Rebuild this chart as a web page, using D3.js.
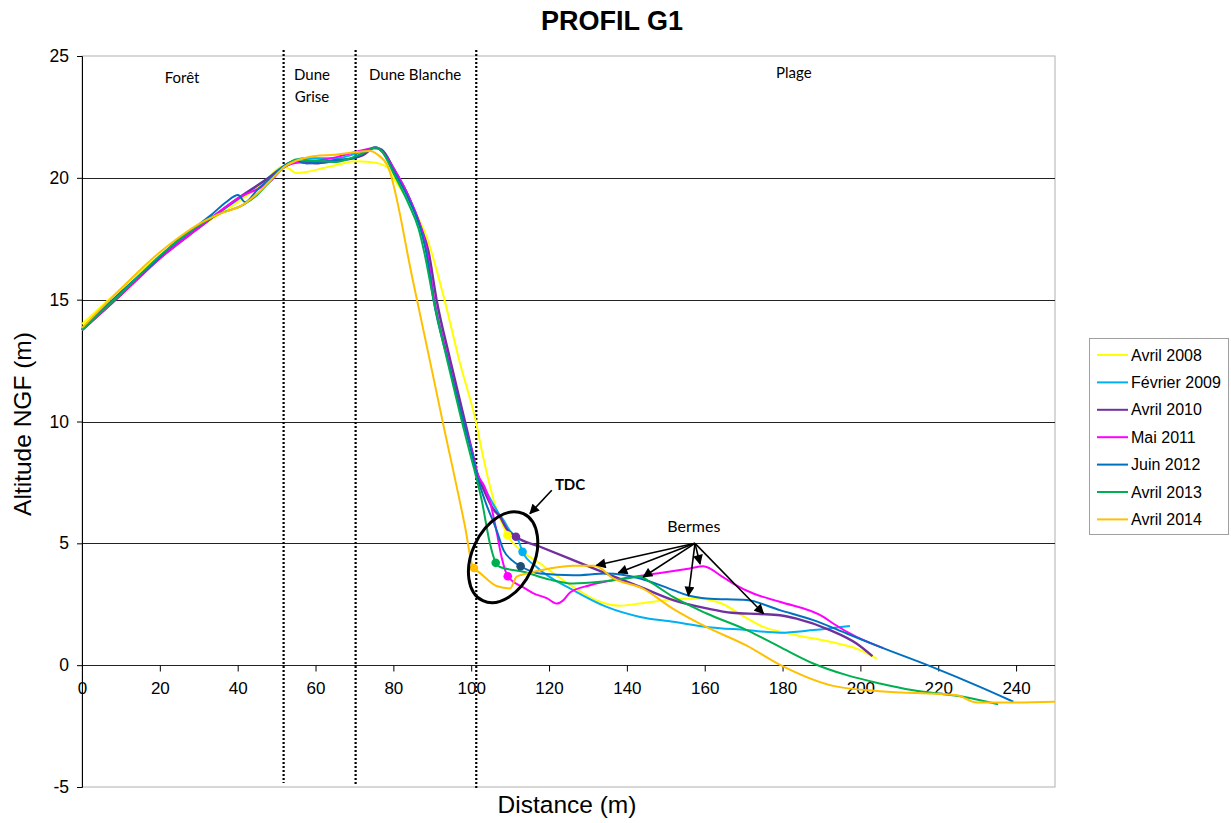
<!DOCTYPE html>
<html><head><meta charset="utf-8">
<script src="https://cdn.jsdelivr.net/npm/d3@7"></script>
<style>
body{margin:0;background:#fff;}
svg{display:block;font-family:"Liberation Sans",Arial,sans-serif;}
</style></head>
<body><svg id="c" width="1231" height="823"></svg>
<script>
// ---------- data ----------
const seriesNames = ["Avril 2008","Février 2009","Avril 2010","Mai 2011","Juin 2012","Avril 2013","Avril 2014"];
const xTicks = [0,20,40,60,80,100,120,140,160,180,200,220,240];
const yTicks = [-5,0,5,10,15,20,25];

const avril2008 = [[0,14.0],[10,15.45],[20,16.8],[30,17.95],[40,19.0],[47,19.85],[51.5,20.45],[53,20.4],[55,20.2],[58,20.25],[62,20.4],[66,20.55],[70,20.68],[74,20.65],[77,20.55],[78.6,20.4],[80,20.0],[84.3,18.95],[88.6,17.55],[92.8,15.2],[97.1,12.4],[101.2,10.0],[103,8.6],[106.5,6.4],[108.3,5.68],[109.3,5.33],[111.7,4.86],[117.7,4.17],[126.2,3.21],[133.1,2.6],[138.2,2.44],[143.4,2.53],[151.9,2.7],[157.9,2.74],[164.8,2.5],[170,2.0],[175.1,1.57],[183.6,1.23],[192.2,0.96],[199,0.68],[204.2,0.27]];
const fevrier2009 = [[0,13.8],[10,15.3],[20,16.75],[30,18.0],[40,19.1],[47,19.9],[52,20.5],[56.8,20.8],[62,20.8],[65.4,20.8],[70.5,21.0],[75,21.2],[77,21.15],[80,20.4],[84,19.2],[87,17.9],[88.5,17.0],[90.5,15.0],[94,12.6],[98,10.0],[100,8.9],[101.5,7.9],[104,7.1],[106.8,6.3],[108.5,5.9],[110,5.5],[112.1,5.13],[113.2,4.65],[116.8,4.03],[126.2,3.08],[134.8,2.39],[143.4,1.98],[151.9,1.78],[160.5,1.57],[170.8,1.44],[179.3,1.33],[187.9,1.44],[197.3,1.61]];
const avril2010 = [[0,13.75],[10,15.2],[20,16.7],[30,17.95],[40,19.15],[48,20.0],[52,20.45],[55,20.65],[60,20.6],[65,20.7],[69.6,20.8],[72.2,20.93],[75.3,21.25],[77,21.15],[80,20.4],[84,19.2],[87,18.0],[89,17.0],[91.1,15.0],[94.5,12.6],[98.4,10.0],[100.5,8.6],[101.5,7.9],[103.5,7.1],[105.7,6.4],[107.4,6.09],[109.1,5.6],[111.5,5.27],[117.7,4.86],[126.2,4.31],[134.8,3.76],[143.4,3.21],[151.9,2.67],[160.5,2.33],[167,2.15],[174.2,2.1],[179.3,2.05],[183.6,1.91],[192.2,1.44],[199,0.89],[203.1,0.37]];
const mai2011 = [[0,13.75],[10,15.2],[20,16.7],[30,17.95],[40,19.15],[48.7,19.9],[52,20.45],[56,20.65],[60,20.7],[65.4,20.85],[68.8,21.0],[74,21.2],[75.5,21.25],[78,20.9],[80,20.4],[84,19.2],[87,18.0],[88.5,17.1],[90.5,15.0],[94,12.6],[98,10.0],[100,8.9],[101.5,7.9],[103.5,7.3],[105,6.6],[106.5,5.5],[107.8,4.44],[109.4,3.65],[113.4,3.19],[116,2.95],[119.4,2.75],[122,2.53],[123.7,2.67],[125.4,2.98],[130.5,3.28],[139.1,3.56],[147.7,3.76],[156.2,3.97],[159.6,4.06],[164.8,3.6],[167.3,3.35],[172.5,2.94],[179.3,2.6],[190.5,1.98],[193,1.71],[199,1.16],[205.9,0.7]];
const juin2012 = [[0,13.8],[10,15.3],[20,16.75],[24.3,17.4],[28,17.85],[33,18.45],[37,19.0],[40.1,19.3],[41.9,19.0],[45,19.5],[50,20.2],[52,20.5],[55,20.7],[57.7,20.59],[61,20.65],[66,20.75],[69.6,20.8],[71.3,20.93],[75.3,21.25],[77,21.1],[80,20.3],[84,19.1],[87,17.9],[88.5,16.9],[90.3,15.0],[94,12.5],[98,10.0],[100,8.8],[101.8,7.6],[103.5,6.77],[106.6,5.5],[108.3,4.72],[110.5,4.3],[112.7,4.06],[117.7,3.76],[126.2,3.69],[134.8,3.76],[143.4,3.56],[151.9,3.08],[156,2.85],[160.5,2.74],[170.8,2.67],[179.3,2.26],[187.9,1.85],[196.5,1.3],[205,0.75],[217.9,-0.04],[230.7,-0.89],[239.3,-1.5]];
const avril2013 = [[0,13.75],[10,15.25],[20,16.8],[24,17.35],[30,18.05],[35,18.5],[41.5,18.9],[45,19.3],[48,19.8],[52,20.45],[55.1,20.75],[60,20.7],[65.4,20.65],[68,20.75],[72,21.0],[75.7,21.25],[77,21.1],[80,20.2],[84,18.9],[86.5,17.9],[88,16.9],[90.3,15.0],[94,12.4],[97.6,10.0],[100,8.5],[101,7.9],[102.7,6.77],[104.8,5.0],[106.3,4.2],[107.4,4.03],[113.4,3.83],[120.2,3.51],[126.2,3.35],[133.1,3.42],[139.9,3.56],[143.4,3.63],[145.9,3.42],[151.9,2.8],[160.5,2.12],[170.8,1.44],[179.3,0.75],[187.9,0.07],[196.5,-0.41],[205,-0.75],[213.6,-1.03],[226.4,-1.3],[235.4,-1.61]];
const avril2014 = [[0,13.85],[10,15.45],[20,16.95],[24,17.45],[30,18.1],[35,18.5],[41.4,18.9],[45,19.35],[50,20.15],[52,20.45],[55,20.7],[60,20.9],[65,20.95],[70,21.05],[74,21.1],[76,20.95],[78.5,20.5],[85,15.8],[92.8,9.9],[98.4,5.7],[100.5,4.0],[101.9,3.83],[106.5,3.25],[110,3.15],[111.7,3.63],[114.3,3.76],[120.2,3.97],[126.2,4.08],[131.8,4.08],[136.5,3.56],[144,3.15],[152,2.3],[160,1.6],[170.8,0.8],[179.5,0.0],[193,-0.85],[205,-1.07],[224.7,-1.23],[229.9,-1.53],[239.3,-1.53],[250,-1.5]];

// TDC points (distance, altitude) per series
const tdcPoints = [[109.3,5.33],[113.2,4.65],[111.5,5.27],[109.4,3.65],[112.7,4.06],[106.3,4.2],[100.7,3.99]];

const zoneBounds = [51.8,70.3,101.3];
const zoneLabels = [["Forêt",25.7,23.88],["Dune",59.1,24.0],["Grise",59.1,23.1],["Dune Blanche",85.6,24.0],["Plage",182.9,24.09]];
const bermesOrigin = [157.5,5.0];
const bermesTargets = [[132.2,4.1],[137.8,3.79],[144.2,3.62],[155.8,2.85],[158.8,4.15],[175.1,2.12]];

// ---------- styles ----------
const lineColors = ["#FFFF00","#00B0F0","#7030A0","#FF00FF","#0070C0","#00B050","#FFC000"];
const dotColors  = ["#FFFF00","#00B0F0","#7030A0","#FF00FF","#1F4E79","#00B050","#FFC000"];
const allSeries = [avril2008,fevrier2009,avril2010,mai2011,juin2012,avril2013,avril2014];

const svg = d3.select("#c");
const x = d3.scaleLinear().domain([0,250]).range([82,1055]);
const y = d3.scaleLinear().domain([-5,25]).range([787,56]);
const fmt = d => String(d);

// plot frame
svg.append("rect").attr("x",x(0)).attr("y",y(25)).attr("width",x(250)-x(0)).attr("height",y(-5)-y(25))
  .attr("fill","none").attr("stroke","#B0B0B0").attr("stroke-width",1);

// gridlines
svg.append("g").selectAll("line").data(yTicks.filter(t=>t>-5&&t<25)).join("line")
  .attr("x1",x(0)).attr("x2",x(250)).attr("y1",d=>Math.round(y(d))+0.5).attr("y2",d=>Math.round(y(d))+0.5)
  .attr("stroke","#222").attr("stroke-width",1);

// y axis
const ya = svg.append("g").attr("transform",`translate(${x(0)},0)`)
  .call(d3.axisLeft(y).tickValues(yTicks).tickFormat(fmt).tickSize(5).tickPadding(8));
ya.select(".domain").attr("stroke","#000");
ya.selectAll(".tick line").attr("stroke","#000");
ya.selectAll("text").attr("font-size",17.5).attr("fill","#000").attr("font-family","Liberation Sans, Arial");

// x axis at 0
const xa = svg.append("g").attr("transform",`translate(0,${Math.round(y(0))+0.5})`)
  .call(d3.axisBottom(x).tickValues(xTicks).tickFormat(fmt).tickSize(6).tickPadding(10));
xa.select(".domain").remove();
xa.selectAll(".tick line").attr("stroke","#000");
xa.selectAll("text").attr("font-size",17).attr("fill","#000").attr("font-family","Liberation Sans, Arial");

// zone dotted lines
svg.append("g").selectAll("line").data(zoneBounds).join("line")
  .attr("x1",d=>x(d)).attr("x2",d=>x(d)).attr("y1",y(25)-6).attr("y2",(d,i)=>y(-5)-4+i*3)
  .attr("stroke","#000").attr("stroke-width",2.2).attr("stroke-dasharray","2,2");

// zone labels
svg.append("g").selectAll("text").data(zoneLabels).join("text")
  .attr("x",d=>x(d[1])).attr("y",d=>y(d[2])).attr("text-anchor","middle")
  .attr("font-family","Lato, 'Open Sans', sans-serif").attr("font-size",15).text(d=>d[0]);

// series lines
const line = d3.line().x(d=>x(d[0])).y(d=>y(d[1])).curve(d3.curveMonotoneX);
svg.append("g").selectAll("path").data(allSeries).join("path")
  .attr("d",line).attr("fill","none").attr("stroke",(d,i)=>lineColors[i])
  .attr("stroke-width",(d,i)=>i===2?2.4:2).attr("stroke-linejoin","round");

// TDC dots
svg.append("g").selectAll("circle").data(tdcPoints).join("circle")
  .attr("cx",d=>x(d[0])).attr("cy",d=>y(d[1])).attr("r",4.3).attr("fill",(d,i)=>dotColors[i]);

// arrow marker
svg.append("defs").append("marker").attr("id","arr").attr("viewBox","0 0 10 10")
  .attr("refX",9).attr("refY",5).attr("markerWidth",11).attr("markerHeight",10)
  .attr("markerUnits","userSpaceOnUse").attr("orient","auto")
  .append("path").attr("d","M0,0 L10,5 L0,10 z").attr("fill","#000");

// TDC ellipse
svg.append("ellipse").attr("cx",x(108.2)).attr("cy",y(4.43)).attr("rx",48).attr("ry",31)
  .attr("transform",`rotate(-65,${x(108.2)},${y(4.43)})`)
  .attr("fill","none").attr("stroke","#000").attr("stroke-width",3);
svg.append("line").attr("x1",x(120.7)).attr("y1",y(7.18)).attr("x2",x(115.1)).attr("y2",y(6.22))
  .attr("stroke","#000").attr("stroke-width",1.6).attr("marker-end","url(#arr)");
svg.append("text").attr("x",x(121.5)).attr("y",y(7.2)).attr("font-family","Lato, sans-serif")
  .attr("font-weight","bold").attr("font-size",15).text("TDC");

// Bermes
svg.append("text").attr("x",x(157.2)).attr("y",y(5.46)).attr("text-anchor","middle")
  .attr("font-family","Lato, sans-serif").attr("font-size",16).text("Bermes");
svg.append("g").selectAll("line").data(bermesTargets).join("line")
  .attr("x1",x(bermesOrigin[0])).attr("y1",y(bermesOrigin[1])).attr("x2",d=>x(d[0])).attr("y2",d=>y(d[1]))
  .attr("stroke","#000").attr("stroke-width",1.6).attr("marker-end","url(#arr)");

// title
svg.append("text").attr("x",612).attr("y",30).attr("text-anchor","middle")
  .attr("font-weight","bold").attr("font-size",27).attr("font-family","Liberation Sans Narrow, Liberation Sans, Arial")
  .text("PROFIL G1");

// axis titles
svg.append("text").attr("x",567).attr("y",813).attr("text-anchor","middle").attr("font-size",24.5).text("Distance (m)");
svg.append("text").attr("transform","translate(31,424) rotate(-90)").attr("text-anchor","middle").attr("font-size",24.5).text("Altitude NGF (m)");

// legend
const lg = svg.append("g");
lg.append("rect").attr("x",1089.5).attr("y",338.5).attr("width",139).attr("height",196)
  .attr("fill","#fff").attr("stroke","#A0A0A0");
const items = lg.selectAll("g").data(seriesNames).join("g")
  .attr("transform",(d,i)=>`translate(1097,${355+i*27.4})`);
items.append("line").attr("x1",0).attr("x2",31).attr("stroke",(d,i)=>lineColors[i]).attr("stroke-width",2);
items.append("text").attr("x",34).attr("y",5.5).attr("font-size",16).text(d=>d);
</script></body></html>
